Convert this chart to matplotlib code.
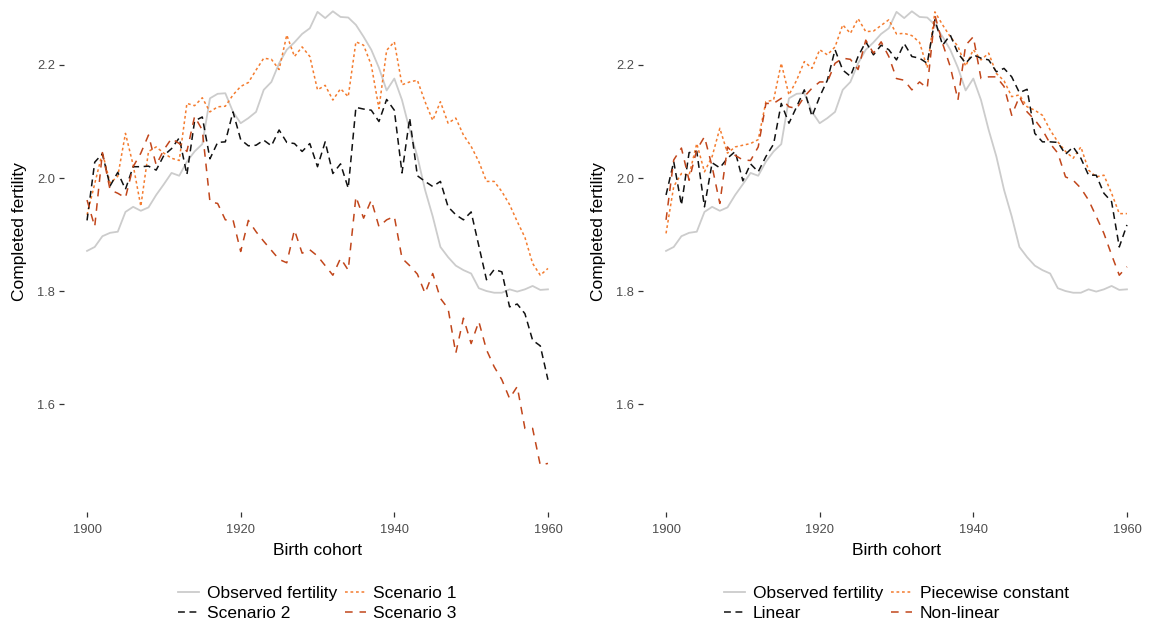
import matplotlib
matplotlib.use("Agg")
import matplotlib.pyplot as plt
from matplotlib.lines import Line2D

plt.rcParams["font.family"] = ["Liberation Sans", "DejaVu Sans"]

# Daten
JAHRE = list(range(1900, 1961))

BEOBACHTET = [1.871, 1.878, 1.897, 1.903, 1.905, 1.940, 1.949, 1.942, 1.948, 1.970,
              1.989, 2.009, 2.004, 2.029, 2.047, 2.060, 2.141, 2.149, 2.150, 2.117,
              2.097, 2.106, 2.117, 2.156, 2.170, 2.203, 2.227, 2.240, 2.255, 2.265,
              2.294, 2.283, 2.295, 2.285, 2.284, 2.271, 2.250, 2.227, 2.195, 2.155,
              2.176, 2.138, 2.085, 2.038, 1.979, 1.932, 1.878, 1.860, 1.845, 1.837,
              1.831, 1.805, 1.800, 1.797, 1.797, 1.803, 1.799, 1.803, 1.809, 1.802, 1.803]

SZENARIO_1 = [1.935, 1.990, 2.045, 1.991, 2.003, 2.079, 2.023, 1.950, 2.047, 2.055,
              2.044, 2.035, 2.031, 2.132, 2.128, 2.142, 2.117, 2.126, 2.127, 2.147,
              2.162, 2.169, 2.191, 2.212, 2.210, 2.192, 2.253, 2.215, 2.232, 2.215,
              2.156, 2.164, 2.138, 2.158, 2.144, 2.241, 2.235, 2.200, 2.123, 2.226,
              2.241, 2.165, 2.170, 2.173, 2.135, 2.102, 2.135, 2.097, 2.106, 2.076,
              2.056, 2.029, 1.994, 1.994, 1.976, 1.953, 1.923, 1.895, 1.849, 1.828, 1.840]

SZENARIO_2 = [1.925, 2.028, 2.043, 1.986, 2.010, 1.980, 2.020, 2.020, 2.021, 2.014,
              2.040, 2.052, 2.071, 2.006, 2.101, 2.108, 2.034, 2.063, 2.064, 2.117,
              2.068, 2.057, 2.058, 2.067, 2.057, 2.085, 2.063, 2.061, 2.047, 2.061,
              2.020, 2.064, 2.008, 2.025, 1.982, 2.125, 2.122, 2.120, 2.100, 2.139,
              2.120, 2.009, 2.106, 2.004, 1.994, 1.985, 1.994, 1.949, 1.935, 1.926,
              1.940, 1.880, 1.820, 1.838, 1.834, 1.772, 1.777, 1.760, 1.713, 1.703, 1.643]

SZENARIO_3 = [1.961, 1.914, 2.045, 1.979, 1.973, 1.965, 2.020, 2.044, 2.076, 2.023,
              2.050, 2.070, 2.061, 2.047, 2.109, 2.085, 1.958, 1.955, 1.926, 1.926,
              1.870, 1.925, 1.905, 1.888, 1.872, 1.856, 1.850, 1.908, 1.867, 1.873,
              1.862, 1.845, 1.828, 1.858, 1.837, 1.967, 1.929, 1.961, 1.914, 1.926,
              1.932, 1.858, 1.845, 1.830, 1.796, 1.831, 1.787, 1.769, 1.690, 1.752,
              1.707, 1.746, 1.696, 1.666, 1.643, 1.610, 1.631, 1.557, 1.557, 1.492, 1.495]

LINEAR = [1.970, 2.029, 1.952, 2.045, 2.047, 1.949, 2.027, 2.018, 2.035, 2.047,
          1.995, 2.025, 2.011, 2.038, 2.060, 2.132, 2.097, 2.126, 2.156, 2.109,
          2.144, 2.173, 2.227, 2.191, 2.180, 2.215, 2.241, 2.218, 2.235, 2.227,
          2.209, 2.238, 2.215, 2.212, 2.203, 2.280, 2.235, 2.253, 2.221, 2.203,
          2.218, 2.212, 2.209, 2.188, 2.194, 2.179, 2.151, 2.157, 2.079, 2.064,
          2.064, 2.063, 2.042, 2.055, 2.035, 2.005, 2.005, 1.973, 1.958, 1.878, 1.917]

STUECKWEISE = [1.902, 1.985, 2.008, 2.005, 2.061, 2.011, 2.038, 2.088, 2.044, 2.055,
               2.058, 2.061, 2.068, 2.135, 2.138, 2.203, 2.147, 2.173, 2.206, 2.194,
               2.227, 2.218, 2.232, 2.271, 2.256, 2.282, 2.259, 2.260, 2.270, 2.280,
               2.255, 2.256, 2.252, 2.240, 2.195, 2.294, 2.271, 2.250, 2.233, 2.198,
               2.227, 2.209, 2.221, 2.185, 2.172, 2.144, 2.147, 2.126, 2.120, 2.111,
               2.085, 2.064, 2.047, 2.035, 2.055, 2.014, 2.002, 2.005, 1.973, 1.937, 1.937]

NICHTLINEAR = [1.926, 2.032, 2.053, 1.996, 2.050, 2.073, 2.020, 1.955, 2.055, 2.040,
               2.032, 2.031, 2.055, 2.132, 2.132, 2.141, 2.126, 2.123, 2.144, 2.159,
               2.170, 2.170, 2.203, 2.212, 2.210, 2.192, 2.244, 2.221, 2.241, 2.215,
               2.176, 2.173, 2.156, 2.170, 2.159, 2.288, 2.238, 2.197, 2.138, 2.235,
               2.250, 2.176, 2.179, 2.179, 2.162, 2.111, 2.144, 2.117, 2.103, 2.085,
               2.061, 2.044, 2.002, 1.996, 1.982, 1.961, 1.932, 1.902, 1.864, 1.828, 1.843]

LINKS_NAMEN = ["Observed fertility", "Scenario 1", "Scenario 2", "Scenario 3"]
RECHTS_NAMEN = ["Observed fertility", "Piecewise constant", "Linear", "Non-linear"]

X_TICKS = [1900, 1920, 1940, 1960]
Y_TICKS = [1.6, 1.8, 2.0, 2.2]

# Stile: grau, orange gepunktet, schwarz gestrichelt, rotbraun gestrichelt
GRAU = "#CCCCCC"
ORANGE = "#F47C2F"
SCHWARZ = "#111111"
ROTBRAUN = "#C1461B"
LW = 1.1


def zeichne_panel(ax, reihen, namen):
    beob, s_orange, s_schwarz, s_rot = reihen
    ax.plot(JAHRE, beob, color=GRAU, lw=1.3, solid_joinstyle="round")
    ax.plot(JAHRE, s_orange, color=ORANGE, lw=LW, dashes=(1.8, 1.8))
    ax.plot(JAHRE, s_schwarz, color=SCHWARZ, lw=LW, dashes=(4.5, 3))
    ax.plot(JAHRE, s_rot, color=ROTBRAUN, lw=LW, dashes=(5, 4.5))

    ax.set_xlim(1897.0, 1963.0)
    ax.set_ylim(1.409, 2.315)
    ax.set_xticks(X_TICKS)
    ax.set_yticks(Y_TICKS)
    ax.set_yticklabels([f"{v:.1f}" for v in Y_TICKS])
    for s in ax.spines.values():
        s.set_visible(False)
    ax.tick_params(colors="#333333", labelcolor="#4D4D4D", labelsize=9.3,
                   length=3.5, width=0.9, pad=3)
    ax.tick_params(axis="x", pad=5)
    ax.set_xlabel("Birth cohort", fontsize=12.5, labelpad=5)
    ax.set_ylabel("Completed fertility", fontsize=12.5)
    ax.yaxis.set_label_coords(-0.072, 0.547)

    # Legende: Spalten werden von oben nach unten gefuellt
    h_beob = Line2D([], [], color=GRAU, lw=1.3)
    h_orange = Line2D([], [], color=ORANGE, lw=LW, dashes=(1.8, 1.8))
    h_schwarz = Line2D([], [], color=SCHWARZ, lw=LW, dashes=(4.5, 3))
    h_rot = Line2D([], [], color=ROTBRAUN, lw=LW, dashes=(5, 4.5))
    ax.legend([h_beob, h_schwarz, h_orange, h_rot],
              [namen[0], namen[2], namen[1], namen[3]],
              ncol=2, loc="upper center", bbox_to_anchor=(0.5, -0.131),
              frameon=False, fontsize=12.5, handlelength=1.2,
              handletextpad=0.45, columnspacing=0.45, labelspacing=0.28,
              borderaxespad=0)


fig = plt.figure(figsize=(11.5, 6.25), dpi=100)
ax1 = fig.add_axes([64 / 1150, 113 / 625, 507 / 1150, 512 / 625])
ax2 = fig.add_axes([643 / 1150, 113 / 625, 507 / 1150, 512 / 625])

zeichne_panel(ax1, [BEOBACHTET, SZENARIO_1, SZENARIO_2, SZENARIO_3], LINKS_NAMEN)
zeichne_panel(ax2, [BEOBACHTET, STUECKWEISE, LINEAR, NICHTLINEAR], RECHTS_NAMEN)

fig.savefig("out.png", dpi=100)
